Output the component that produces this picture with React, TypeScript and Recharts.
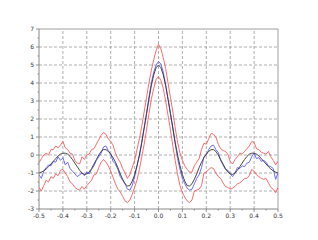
import React from 'react';
import { LineChart, Line, XAxis, YAxis, ReferenceLine } from 'recharts';

const xValues = Array.from({ length: 101 }, (_, i) => Math.round((i - 50)) / 100);

const trueCurve = [
  -1.0, -0.95, -0.88, -0.78, -0.65, -0.5, -0.35, -0.2, -0.05, 0.05,
  0.1, 0.1, 0.05, -0.08, -0.25, -0.45, -0.65, -0.85, -1.0, -1.08,
  -1.05, -0.95, -0.75, -0.5, -0.25, 0.0, 0.2, 0.3, 0.3, 0.2,
  0.05, -0.15, -0.4, -0.7, -1.05, -1.35, -1.6, -1.72, -1.7, -1.45,
  -1.1, -0.6, 0.0, 0.7, 1.5, 2.3, 3.1, 3.85, 4.45, 4.85,
  5.0,
  4.85, 4.45, 3.85, 3.1, 2.3, 1.5, 0.7, 0.0, -0.6, -1.1,
  -1.45, -1.7, -1.72, -1.6, -1.35, -1.05, -0.7, -0.4, -0.15, 0.05,
  0.2, 0.3, 0.3, 0.2, 0.0, -0.25, -0.5, -0.75, -0.95, -1.05,
  -1.08, -1.0, -0.85, -0.65, -0.45, -0.25, -0.08, 0.05, 0.1, 0.1,
  0.05, -0.05, -0.2, -0.35, -0.5, -0.65, -0.78, -0.88, -0.95, -1.0,
];

const estimate = [
  -1.1, -1.3, -0.9, -0.7, -0.55, -0.6, -0.35, -0.4, -0.1, -0.3,
  -0.15, -0.55, -0.4, -0.75, -0.9, -1.05, -1.2, -1.1, -1.0, -1.15,
  -0.95, -1.05, -0.8, -0.6, -0.3, -0.1, 0.1, 0.45, 0.5, 0.25,
  0.05, -0.35, -0.5, -0.8, -1.2, -1.4, -1.6, -1.9, -1.95, -1.7,
  -1.2, -0.6, -0.05, 0.7, 1.5, 2.3, 3.2, 4.0, 4.6, 5.0,
  5.2,
  5.05, 4.6, 3.9, 3.1, 2.3, 1.5, 0.6, -0.2, -0.8, -1.3,
  -1.6, -1.85, -1.95, -1.9, -1.6, -1.3, -1.1, -0.7, -0.1, 0.0,
  0.3, 0.5, 0.55, 0.3, 0.15, -0.3, -0.55, -0.8, -0.85, -1.05,
  -1.2, -1.0, -0.7, -0.75, -0.6, -0.65, -0.45, -0.4, -0.1, 0.1,
  -0.2, -0.15, -0.35, -0.3, -0.4, -0.6, -0.65, -0.75, -1.35, -1.0,
];

const upperBound = [
  -0.43, -0.2, 0.0, 0.1, 0.0, 0.3, 0.3, 0.5, 0.4, 0.55,
  0.75, 0.4, 0.3, 0.1, 0.05, -0.3, -0.45, -0.5, -0.1, -0.25,
  0.0, 0.05, 0.3, 0.35, 0.6, 0.85, 1.1, 1.25, 1.15, 0.9,
  0.75, 0.55, 0.1, -0.2, -0.4, -0.75, -1.0, -1.3, -1.1, -0.7,
  -0.3, 0.3, 0.9, 1.6, 2.4, 3.2, 4.0, 4.7, 5.3, 5.8,
  6.15,
  5.9, 5.4, 4.8, 4.0, 3.2, 2.4, 1.5, 0.7, 0.1, -0.3,
  -0.6, -0.8, -0.95, -0.95, -0.6, -0.4, -0.2, 0.3, 0.65, 0.6,
  0.9, 1.2, 1.15, 1.0, 0.6, 0.35, 0.25, 0.2, 0.05, -0.35,
  -0.5, -0.25, -0.1, 0.1, 0.05, 0.2, 0.35, 0.5, 0.75, 0.7,
  0.35, 0.3, 0.15, 0.1, 0.05, 0.2, -0.1, -0.3, -0.55, -0.35,
];

const lowerBound = [
  -1.8, -2.0, -1.7, -1.4, -1.5, -1.2, -1.3, -1.05, -1.15, -0.85,
  -0.8, -1.0, -1.2, -1.5, -1.6, -1.8, -1.9, -1.95, -1.75, -1.9,
  -1.7, -1.55, -1.4, -1.1, -1.05, -0.7, -0.4, -0.25, -0.4, -0.6,
  -0.9, -1.25, -1.6, -1.9, -2.05, -2.3, -2.55, -2.65, -2.5, -2.2,
  -1.8, -1.4, -0.8, -0.1, 0.6, 1.4, 2.3, 3.1, 3.7, 4.2,
  4.35,
  4.15, 3.7, 3.0, 2.2, 1.4, 0.5, -0.3, -1.1, -1.7, -2.1,
  -2.35, -2.55, -2.65, -2.5, -2.0, -1.95, -1.9, -1.7, -1.0, -0.95,
  -0.8, -0.7, -0.75, -1.0, -1.2, -1.3, -1.55, -1.75, -1.8, -1.9,
  -1.85, -1.75, -1.6, -1.55, -1.45, -1.3, -1.3, -1.15, -0.8, -0.9,
  -1.1, -1.2, -1.3, -1.35, -1.3, -1.55, -1.8, -1.9, -2.1, -1.8,
];

const xMajorTicks = [-0.5, -0.4, -0.3, -0.2, -0.1, 0, 0.1, 0.2, 0.3, 0.4, 0.5];
const xAllTicks = [-0.5, -0.45, -0.4, -0.35, -0.3, -0.25, -0.2, -0.15, -0.1, -0.05, 0, 0.05, 0.1, 0.15, 0.2, 0.25, 0.3, 0.35, 0.4, 0.45, 0.5];
const yMajorTicks = [-3, -2, -1, 0, 1, 2, 3, 4, 5, 6, 7];
const yAllTicks = [-3, -2.5, -2, -1.5, -1, -0.5, 0, 0.5, 1, 1.5, 2, 2.5, 3, 3.5, 4, 4.5, 5, 5.5, 6, 6.5, 7];

const data = xValues.map((x, i) => ({
  x,
  trueCurve: trueCurve[i],
  estimate: estimate[i],
  upper: upperBound[i],
  lower: lowerBound[i],
}));

const isMajor = (v: number, step: number) => Math.abs(v / step - Math.round(v / step)) < 1e-6;

const XTick = (props: any) => {
  const { x, y, payload } = props;
  const v = payload.value as number;
  const major = isMajor(v, 0.1);
  return (
    <g>
      <line x1={x} x2={x} y1={y} y2={y + (major ? 3 : 1.5)} stroke="#777" strokeWidth={0.8} />
      {major && (
        <text x={x} y={y + 9} textAnchor="middle" fontSize={6} fill="#333" fontFamily="DejaVu Sans, sans-serif">
          {v.toFixed(1)}
        </text>
      )}
    </g>
  );
};

const YTick = (props: any) => {
  const { x, y, payload } = props;
  const v = payload.value as number;
  const major = isMajor(v, 1);
  return (
    <g>
      <line x1={x} x2={x - (major ? 3 : 1.5)} y1={y} y2={y} stroke="#777" strokeWidth={0.8} />
      {major && (
        <text x={x - 5} y={y + 2} textAnchor="end" fontSize={6} fill="#333" fontFamily="DejaVu Sans, sans-serif">
          {String(v)}
        </text>
      )}
    </g>
  );
};

export default function App() {
  return (
    <div style={{ position: 'absolute', left: 0, top: 0, width: 318, height: 240, background: '#fff' }}>
      <LineChart width={318} height={240} data={data} margin={{ top: 29, right: 40, bottom: 0, left: 0 }}>
        <XAxis
          dataKey="x"
          type="number"
          domain={[-0.5, 0.5]}
          ticks={xAllTicks}
          interval={0}
          tick={<XTick />}
          tickLine={false}
          tickSize={0}
          tickMargin={0}
          height={31}
          stroke="#888"
          allowDataOverflow
        />
        <YAxis
          type="number"
          domain={[-3, 7]}
          ticks={yAllTicks}
          interval={0}
          tick={<YTick />}
          tickLine={false}
          tickSize={0}
          tickMargin={0}
          width={39}
          stroke="#888"
          allowDataOverflow
        />
        {xMajorTicks.slice(1, -1).map((v) => (
          <ReferenceLine key={'gx' + v} x={v} stroke="#999" strokeDasharray="3 2" strokeWidth={0.8} />
        ))}
        {yMajorTicks.slice(1, -1).map((v) => (
          <ReferenceLine key={'gy' + v} y={v} stroke="#999" strokeDasharray="3 2" strokeWidth={0.8} />
        ))}
        <ReferenceLine x={0.5} stroke="#888" strokeWidth={0.8} />
        <ReferenceLine y={7} stroke="#888" strokeWidth={0.8} />
        <Line dataKey="upper" stroke="#ff5a5a" strokeWidth={0.9} dot={false} isAnimationActive={false} />
        <Line dataKey="lower" stroke="#ff5a5a" strokeWidth={0.9} dot={false} isAnimationActive={false} />
        <Line dataKey="estimate" stroke="#5a5aff" strokeWidth={0.9} dot={false} isAnimationActive={false} />
        <Line dataKey="trueCurve" stroke="#333" strokeWidth={0.9} dot={false} isAnimationActive={false} />
      </LineChart>
    </div>
  );
}
